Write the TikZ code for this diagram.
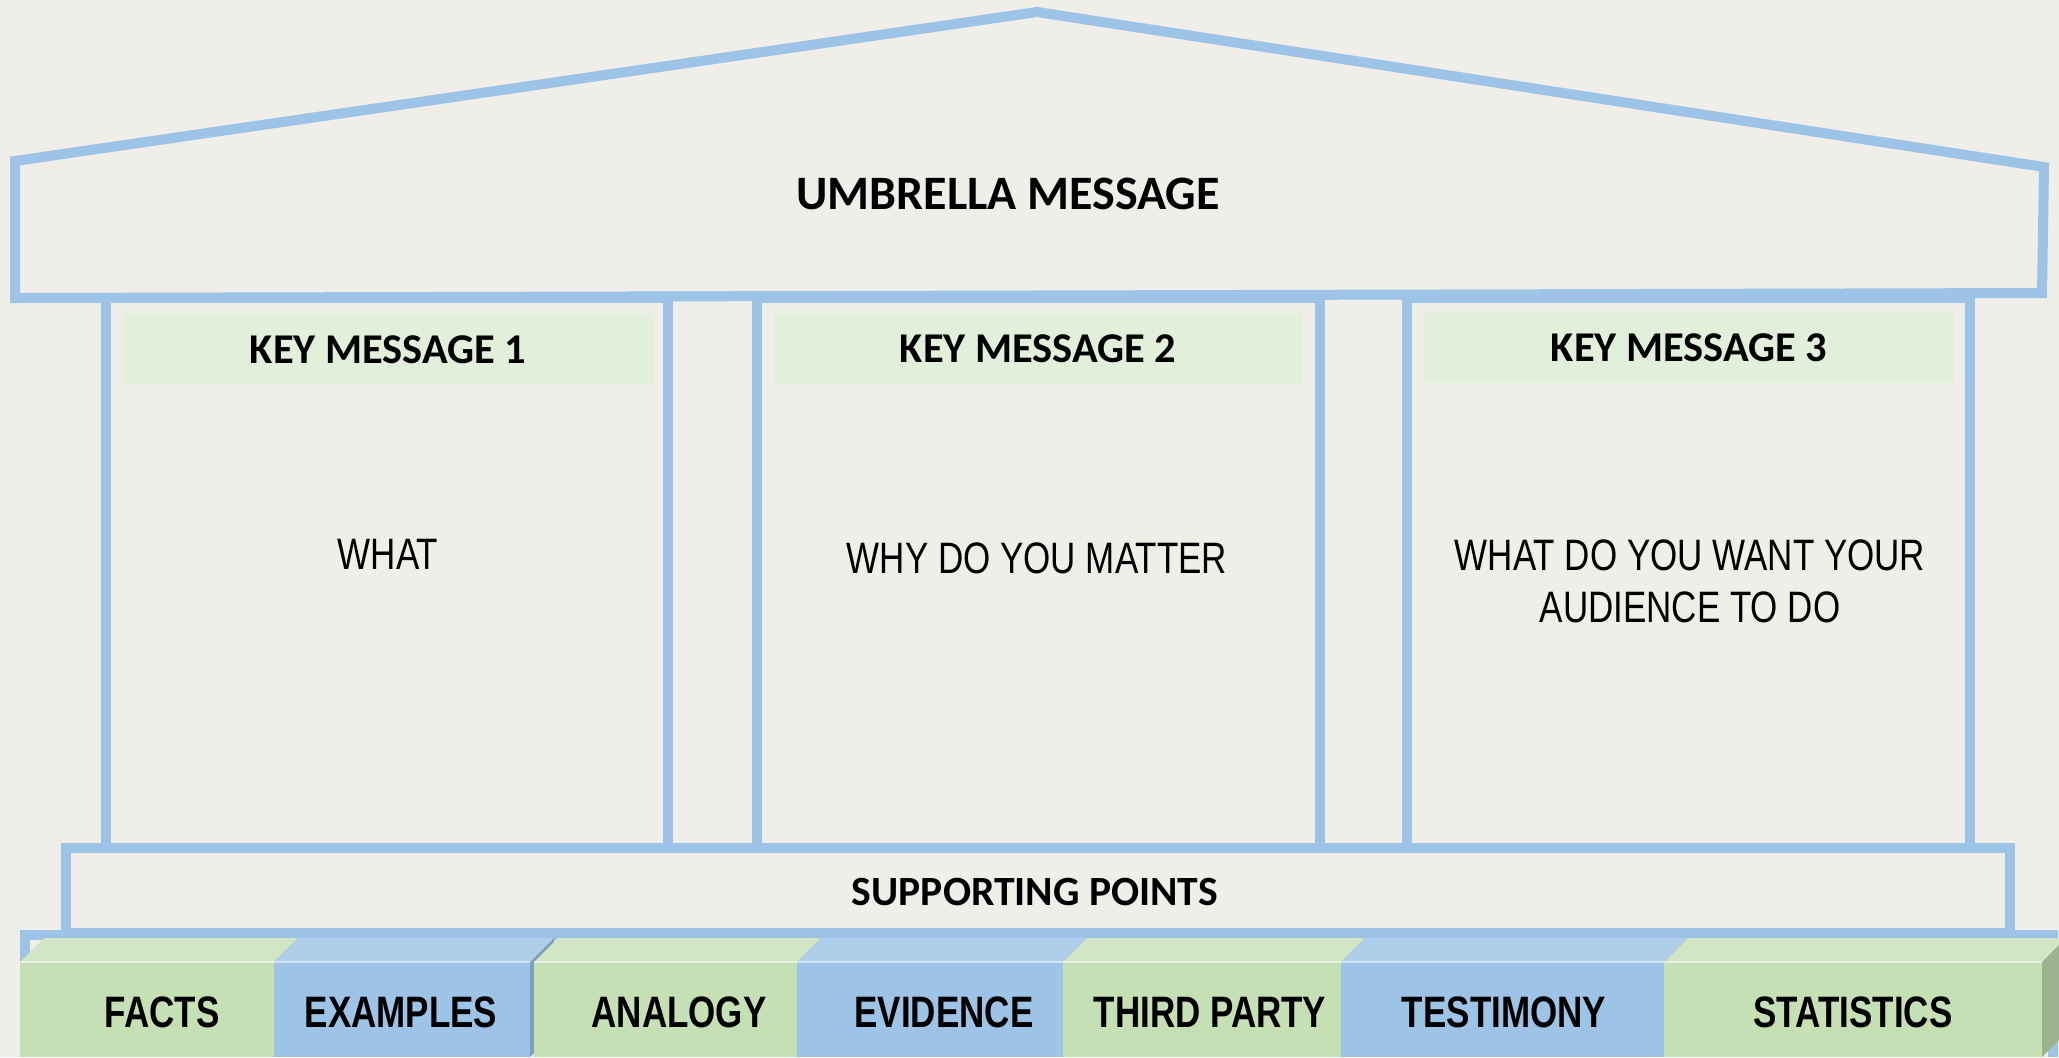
\documentclass[tikz,border=0pt]{standalone}
\usepackage{fontspec}
\setmainfont{Carlito}
\newfontfamily\narrowfont[FakeStretch=0.795]{Liberation Sans}
\definecolor{bgcol}{RGB}{239,238,233}
\definecolor{linecol}{RGB}{157,195,230}
\definecolor{hdrcol}{RGB}{226,239,218}
\definecolor{gfront}{RGB}{197,224,180}
\definecolor{gtop}{RGB}{210,229,196}
\definecolor{gside}{RGB}{156,179,143}
\definecolor{bfront}{RGB}{157,195,230}
\definecolor{btop}{RGB}{175,206,234}
\definecolor{bside}{RGB}{126,159,192}
\tikzset{
  outline/.style={draw=linecol, line width=5pt, line join=miter},
  hdrbox/.style={fill=hdrcol},
  hdrtext/.style={font=\fontsize{21.2}{25}\selectfont\bfseries, text=black},
  sptext/.style={font=\fontsize{20.8}{25}\selectfont\bfseries, text=black},
  bigtext/.style={font=\fontsize{24}{28}\selectfont\bfseries, text=black},
  bodytext/.style={font=\narrowfont\fontsize{22}{26}\selectfont, text=black, align=center},
  blocktext/.style={font=\narrowfont\bfseries\fontsize{22}{26}\selectfont, text=black},
}
\begin{document}
\begin{tikzpicture}[x=0.5pt,y=-0.5pt]
\fill[bgcol] (0,0) rectangle (2059,1057);
\useasboundingbox (0,0) rectangle (2059,1057);
% roof
\draw[outline] (15,161) -- (1037,12) -- (2044,167) -- (2042,293) -- (15,298) -- cycle;
\node[bigtext] (umb) at (1008,194) {UMBRELLA MESSAGE};
% columns
\draw[outline] (106,298) rectangle (668,848);
\draw[outline] (757,298) rectangle (1320,848);
\draw[outline] (1407,298) rectangle (1970,848);
% header boxes
\fill[hdrbox] (124,313) rectangle (653,385);
\fill[hdrbox] (774,313) rectangle (1303,384);
\fill[hdrbox] (1424,312) rectangle (1954,383);
\node[hdrtext] (k1) at (388,350) {KEY MESSAGE 1};
\node[hdrtext] (k2) at (1038,349) {KEY MESSAGE 2};
\node[hdrtext] (k3) at (1689,348) {KEY MESSAGE 3};
\node[bodytext] (w1) at (388,554) {WHAT};
\node[bodytext] (w2) at (1037,558) {WHY DO YOU MATTER};
\node[bodytext] (w3) at (1690,581) {WHAT DO YOU WANT YOUR\\AUDIENCE TO DO};
% base
\draw[outline] (66,848) rectangle (2010,933);
\node[sptext] (sp) at (1035,892) {SUPPORTING POINTS};
% outer foundation outline
\draw[outline] (25,1057) -- (25,935) -- (2053,935) -- (2053,1057);
% blocks
\foreach \xa/\xb/\fr/\tp/\sd/\lx/\lab [count=\i] in {
  20/274/gfront/gtop/gside/162/FACTS,
  274/530/bfront/btop/bside/401/EXAMPLES,
  534/797/gfront/gtop/gside/679/ANALOGY,
  797/1063/bfront/btop/bside/944/EVIDENCE,
  1063/1341/gfront/gtop/gside/1210/THIRD PARTY,
  1341/1664/bfront/btop/bside/1504/TESTIMONY,
  1664/2042/gfront/gtop/gside/1853/STATISTICS}{
  \fill[\tp] (\xa,962) -- (\xa+24,938) -- (\xb+24,938) -- (\xb,962) -- cycle;
  \fill[\sd] (\xb,962) -- (\xb+24,938) -- (\xb+24,1033) -- (\xb,1057) -- cycle;
  \fill[\fr] (\xa,962) rectangle (\xb,1057);
  \draw[white, opacity=0.5, line width=0.6pt] (\xa,962) -- (\xb,962);
  \node[blocktext] (b\i) at (\lx,1012) {\lab};
}
\end{tikzpicture}
\end{document}
